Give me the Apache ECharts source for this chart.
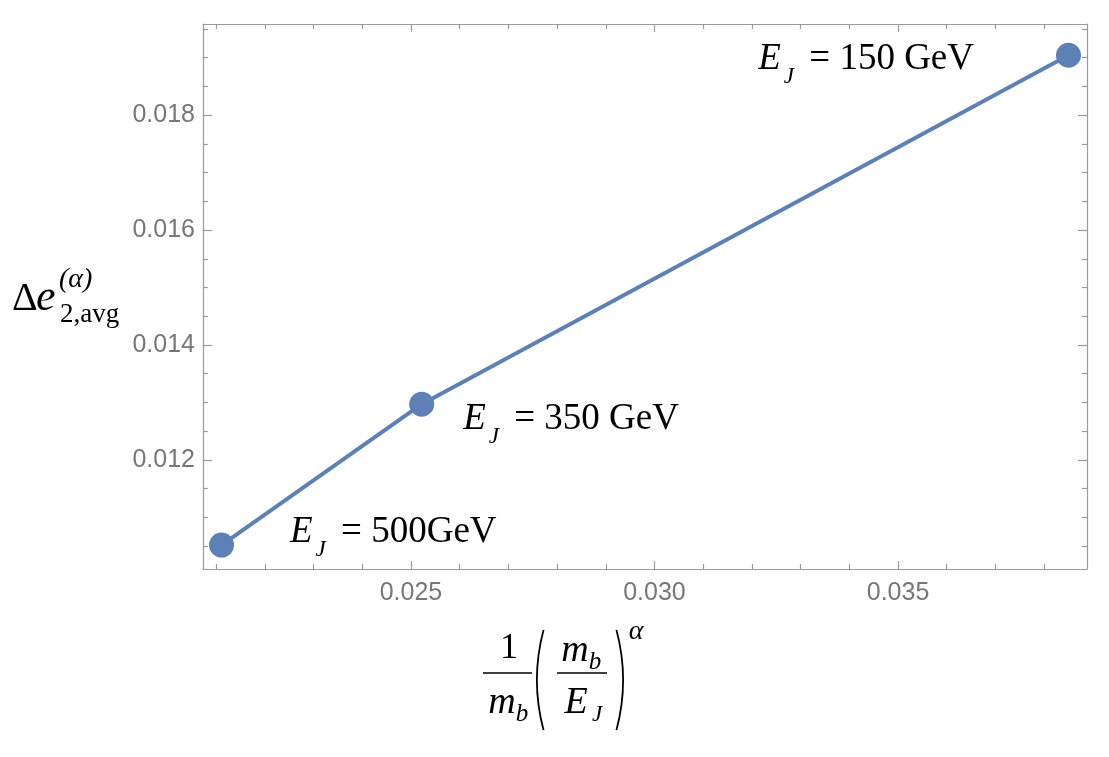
<!DOCTYPE html>
<html>
<head>
<meta charset="utf-8">
<script src="https://cdn.jsdelivr.net/npm/echarts@6/dist/echarts.min.js"></script>
<style>
  html, body { margin: 0; padding: 0; background: #fff; }
  #chart { width: 1109px; height: 757px; }
</style>
</head>
<body>
<div id="chart"></div>
<script>
/* 数据 */
const xValues = [0.02111, 0.02522, 0.03850]
const yValues = [0.01052, 0.01297, 0.01904]
const energyLabels = [' = 500GeV', ' = 350 GeV', ' = 150 GeV']
const xMajorTicks = [0.025, 0.030, 0.035]
const xMinorTicks = [0.021, 0.022, 0.023, 0.024, 0.026, 0.027, 0.028, 0.029,
  0.031, 0.032, 0.033, 0.034, 0.036, 0.037, 0.038]
const yMajorTicks = [0.012, 0.014, 0.016, 0.018]
const yMinorTicks = [0.0105, 0.011, 0.0115, 0.0125, 0.013, 0.0135, 0.0145, 0.015,
  0.0155, 0.0165, 0.017, 0.0175, 0.0185, 0.019, 0.0195]
const xRange = [0.02073, 0.03888]
const yRange = [0.010104, 0.019583]

const blue = '#5e81b5'
const frame = '#9a9a9a'
const serif = 'Liberation Serif'

var myChart = echarts.init(document.getElementById('chart'))

// 轴的生成
function axis(pos, range, ticks, len, gridIndex, showLabel, showLine) {
  return {
    type: 'value',
    gridIndex: gridIndex,
    position: pos,
    min: range[0],
    max: range[1],
    axisLine: { show: showLine, onZero: false, lineStyle: { color: frame, width: 1.2 } },
    splitLine: { show: false },
    axisTick: { show: true, inside: true, length: len, customValues: ticks, lineStyle: { color: frame, width: 1.2 } },
    axisLabel: {
      show: showLabel,
      customValues: ticks,
      formatter: (v) => v.toFixed(3),
      color: '#777777',
      fontFamily: 'Liberation Sans',
      fontSize: 25,
      margin: pos === 'bottom' ? 12 : 8,
    },
  }
}

const labelPlacement = [
  { position: 'right', distance: 56, offset: [0, -13] },
  { position: 'right', distance: 29, offset: [0, 15] },
  { position: 'left', distance: 82, offset: [0, 4] },
]

const seriesData = xValues.map((x, i) => ({
  value: [x, yValues[i]],
  label: Object.assign({ show: true, formatter: '{e|E}{j|J}{t|' + energyLabels[i] + '}' }, labelPlacement[i]),
}))

const option = {
  animation: false,
  grid: [
    { left: 203, top: 24, right: 22, bottom: 188 },
    { left: 203, top: 24, right: 22, bottom: 188 },
  ],
  xAxis: [
    axis('bottom', xRange, xMajorTicks, 8, 0, true, true),
    axis('top', xRange, xMajorTicks, 8, 0, false, true),
    axis('bottom', xRange, xMinorTicks, 5, 1, false, false),
    axis('top', xRange, xMinorTicks, 5, 1, false, false),
  ],
  yAxis: [
    axis('left', yRange, yMajorTicks, 9, 0, true, true),
    axis('right', yRange, yMajorTicks, 9, 0, false, true),
    axis('left', yRange, yMinorTicks, 5, 1, false, false),
    axis('right', yRange, yMinorTicks, 5, 1, false, false),
  ],
  series: [
    {
      type: 'line',
      xAxisIndex: 0,
      yAxisIndex: 0,
      data: seriesData,
      symbol: 'circle',
      symbolSize: 25,
      lineStyle: { color: blue, width: 4 },
      itemStyle: { color: blue },
      label: {
        rich: {
          e: { fontFamily: serif, fontStyle: 'italic', fontSize: 37, color: '#000' },
          j: { fontFamily: serif, fontStyle: 'italic', fontSize: 23, color: '#000', padding: [36, 6, 0, 3] },
          t: { fontFamily: serif, fontSize: 37, color: '#000' },
        },
      },
    },
  ],
  graphic: [
    // y 轴标题
    { type: 'text', left: 12, top: 279, style: { text: 'Δ', font: '40px "Liberation Serif"', fill: '#000' } },
    { type: 'text', left: 36, top: 276, style: { text: 'e', font: 'italic 44px "Liberation Serif"', fill: '#000' } },
    { type: 'text', left: 59, top: 266, style: { text: '(α)', font: 'italic 28px "Liberation Serif"', fill: '#000' } },
    { type: 'text', left: 60, top: 301, style: { text: '2,avg', font: '27px "Liberation Serif"', fill: '#000' } },
    // x 轴标题
    { type: 'text', x: 509, y: 649, style: { text: '1', font: '36px "Liberation Serif"', fill: '#000', align: 'center', verticalAlign: 'middle' } },
    { type: 'line', shape: { x1: 483, y1: 673, x2: 532, y2: 673 }, style: { stroke: '#000', lineWidth: 1.5 } },
    { type: 'text', x: 502, y: 703, style: { text: 'm', font: 'italic 38px "Liberation Serif"', fill: '#000', align: 'center', verticalAlign: 'middle' } },
    { type: 'text', x: 522, y: 714, style: { text: 'b', font: 'italic 25px "Liberation Serif"', fill: '#000', align: 'center', verticalAlign: 'middle' } },
    { type: 'arc', shape: { cx: 732, cy: 680, r: 195, startAngle: Math.PI - 0.26, endAngle: Math.PI + 0.26 }, style: { stroke: '#000', lineWidth: 1.8, fill: null } },
    { type: 'arc', shape: { cx: 428, cy: 680, r: 195, startAngle: -0.26, endAngle: 0.26 }, style: { stroke: '#000', lineWidth: 1.8, fill: null } },
    { type: 'text', x: 575, y: 651, style: { text: 'm', font: 'italic 38px "Liberation Serif"', fill: '#000', align: 'center', verticalAlign: 'middle' } },
    { type: 'text', x: 595, y: 662, style: { text: 'b', font: 'italic 25px "Liberation Serif"', fill: '#000', align: 'center', verticalAlign: 'middle' } },
    { type: 'line', shape: { x1: 557, y1: 673, x2: 607, y2: 673 }, style: { stroke: '#000', lineWidth: 1.5 } },
    { type: 'text', x: 576, y: 703, style: { text: 'E', font: 'italic 38px "Liberation Serif"', fill: '#000', align: 'center', verticalAlign: 'middle' } },
    { type: 'text', x: 597, y: 715, style: { text: 'J', font: 'italic 23px "Liberation Serif"', fill: '#000', align: 'center', verticalAlign: 'middle' } },
    { type: 'text', x: 636, y: 632, style: { text: 'α', font: 'italic 28px "Liberation Serif"', fill: '#000', align: 'center', verticalAlign: 'middle' } },
  ],
}
myChart.setOption(option)
</script>
</body>
</html>
